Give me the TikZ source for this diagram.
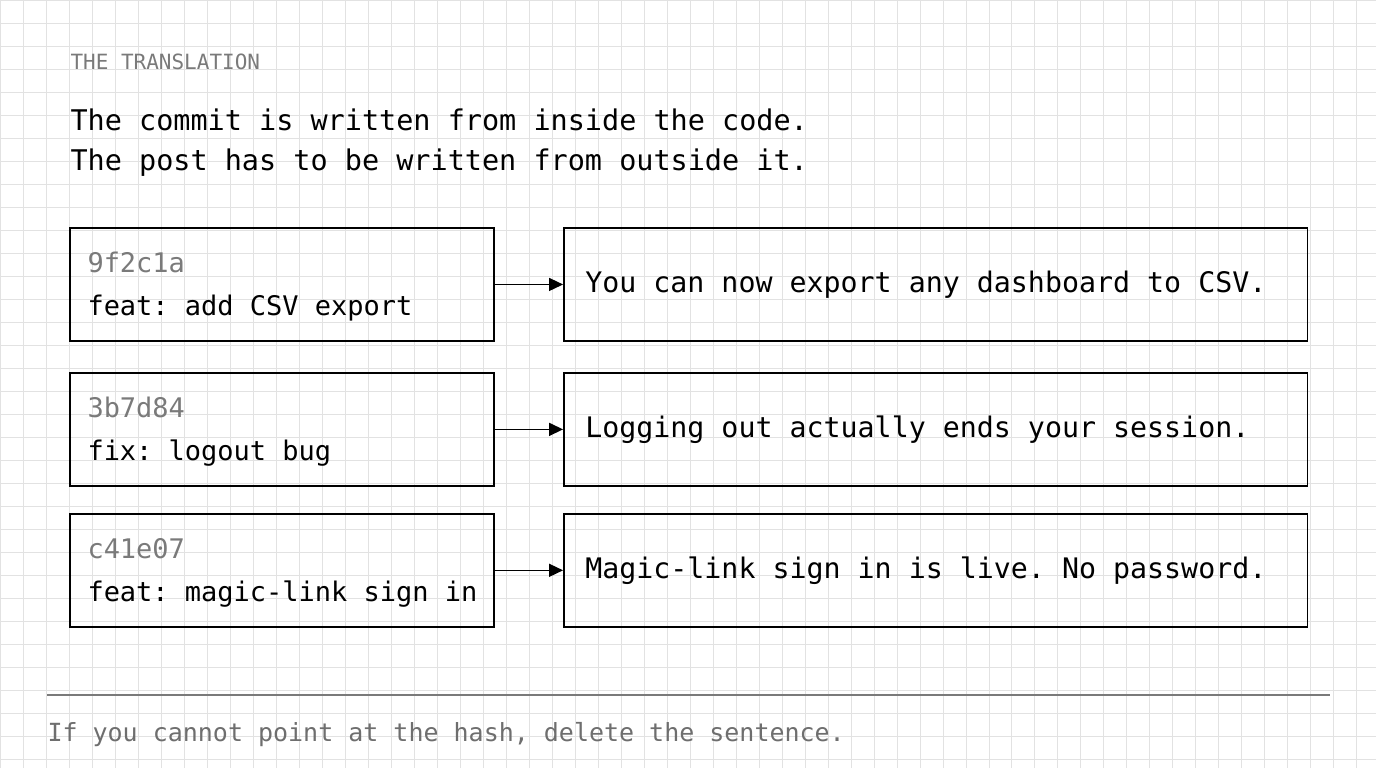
\documentclass[tikz,border=0pt]{standalone}
\usepackage{fontspec}
\setmonofont{DejaVu Sans Mono}
\usetikzlibrary{positioning, arrows.meta}
\definecolor{gridgray}{HTML}{E2E2E2}
\definecolor{hashgray}{HTML}{7A7A7A}
\tikzstyle{commit}=[draw, line width=1.5pt, minimum width=424pt, minimum height=113pt, anchor=north west]
\tikzstyle{post}=[draw, line width=1.5pt, minimum width=744pt, minimum height=113pt, anchor=north west]
\tikzstyle{txt}=[inner sep=0pt, anchor=base west, font=\ttfamily]
\tikzset{>={Triangle[length=14pt, width=13pt]}}

\begin{document}
\begin{tikzpicture}[x=1pt, y=-1pt]
% the paper
\fill[white] (0,0) rectangle (1376,768);
\draw[gridgray, line width=0.7pt, step=23pt] (0,0) grid (1376,768);
\useasboundingbox (0,0) rectangle (1376,768);
% the heading
\node[txt, font=\ttfamily\fontsize{21}{21}\selectfont, text=hashgray] (kicker) at (70,69) {THE TRANSLATION};
\node[txt, font=\ttfamily\fontsize{28.5}{28.5}\selectfont] (line1) at (70,130) {The commit is written from inside the code.};
\node[txt, font=\ttfamily\fontsize{28.5}{28.5}\selectfont] (line2) at (70,170) {The post has to be written from outside it.};
% the rows
\foreach \i/\y/\hash/\msg/\out in {
  1/227/9f2c1a/{feat: add CSV export}/{You can now export any dashboard to CSV.},
  2/372/3b7d84/{fix: logout bug}/{Logging out actually ends your session.},
  3/513/c41e07/{feat: magic-link sign in}/{Magic-link sign in is live. No password.}}{
  \node[commit] (C\i) at (69,\y) {};
  \node[post] (P\i) at (563,\y) {};
  \node[txt, font=\ttfamily\fontsize{27}{27}\selectfont, text=hashgray] (H\i) at (87,\y+45) {\hash};
  \node[txt, font=\ttfamily\fontsize{27}{27}\selectfont] (M\i) at (87,\y+88) {\msg};
  \node[txt, anchor=west, font=\ttfamily\fontsize{28.3}{28.3}\selectfont] (T\i) at ([xshift=22pt]P\i.west) {\out};
  \draw[->, line width=1.5pt] (C\i.east) -- (P\i.west);
}
% the footer
\draw[hashgray, line width=1.4pt] (47,695) coordinate (r0) -- (1330,695) coordinate (r1);
\node[txt, font=\ttfamily\fontsize{25}{25}\selectfont, text=hashgray!90!black] (foot) at (47,742) {If you cannot point at the hash, delete the sentence.};
\end{tikzpicture}
\end{document}
